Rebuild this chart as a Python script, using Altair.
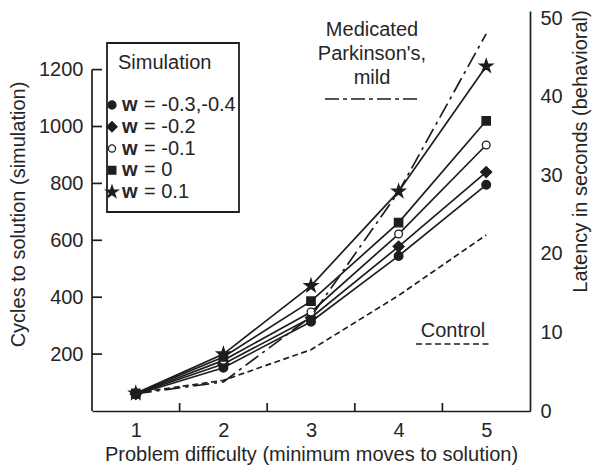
import altair as alt
import pandas as pd

# ---------------- data ----------------
problem = [1, 2, 3, 4, 5]
sim_labels = ["-0.3,-0.4", "-0.2", "-0.1", "0", "0.1"]
cyc_m03 = [58, 152, 314, 545, 795]
cyc_m02 = [60, 165, 328, 578, 840]
cyc_m01 = [60, 178, 348, 622, 935]
cyc_0 = [62, 190, 386, 662, 1020]
cyc_01 = [62, 200, 440, 772, 1212]
sim_values = [cyc_m03, cyc_m02, cyc_m01, cyc_0, cyc_01]

lat_med = [2.2, 3.7, 12.0, 27.9, 48.0]
lat_ctrl = [2.3, 3.9, 7.8, 14.7, 22.4]

left_ticks = [200, 400, 600, 800, 1000, 1200]
right_ticks = [0, 10, 20, 30, 40, 50]
x_bounds = [1.5, 2.5, 3.5, 4.5]

# ---------------- style ----------------
INK = "#1e1e1e"
TXT = "#262626"
FONT = "Liberation Sans"
FS = 20
LW = 1.7
STAR = ("M0,-1L0.2245,-0.309L0.951,-0.309L0.363,0.118L0.588,0.809L0,0.382"
        "L-0.588,0.809L-0.363,0.118L-0.951,-0.309L-0.2245,-0.309Z")
shapes = ["circle", "diamond", "circle", "square", STAR]
fills = [INK, INK, "white", INK, INK]
sizes = [75, 120, 60, 70, 190]

W, H = 438, 400

one = pd.DataFrame({"a": [0]})

x_enc = alt.X(
    "x:Q",
    scale=alt.Scale(domain=[0.5, 5.5], nice=False, zero=False),
    axis=alt.Axis(
        values=problem, ticks=False, tickSize=0, grid=False, domain=True,
        domainColor=INK, domainWidth=LW, labelFont=FONT, labelFontSize=FS,
        labelColor=TXT, labelPadding=9, format="d",
        title="Problem difficulty (minimum moves to solution)",
        titleFont=FONT, titleFontSize=FS, titleFontWeight="normal",
        titleColor=TXT, titleY=43, titleBaseline="middle",
    ),
)

yL = alt.Y(
    "cycles:Q",
    scale=alt.Scale(domain=[0, 1406], nice=False, zero=True),
    axis=alt.Axis(
        values=left_ticks, ticks=False, tickSize=0, grid=False, domain=False,
        format="d",
        labelFont=FONT, labelFontSize=FS, labelColor=TXT, labelPadding=9,
        title="Cycles to solution (simulation)", titleFont=FONT,
        titleFontSize=FS, titleFontWeight="normal", titleColor=TXT,
        titleAngle=270, titleX=-74, titleY=203, titleAlign="center",
        titleBaseline="middle",
    ),
)

yR = alt.Y(
    "lat:Q",
    scale=alt.Scale(domain=[0, 50.9], nice=False, zero=True),
    axis=alt.Axis(
        orient="right", values=right_ticks, ticks=False, tickSize=0,
        grid=False, domain=True, domainColor=INK, domainWidth=LW,
        format="d",
        labelFont=FONT, labelFontSize=FS, labelColor=TXT, labelPadding=10,
        title="Latency in seconds (behavioral)", titleFont=FONT,
        titleFontSize=FS, titleFontWeight="normal", titleColor=TXT,
        titleAngle=270, titleX=50, titleY=140, titleAlign="center",
        titleBaseline="middle",
    ),
)

# ---------------- left (simulation) group ----------------
left_layers = []

for lab, vals in zip(sim_labels, sim_values):
    df = pd.DataFrame({"x": problem, "cycles": vals})
    left_layers.append(
        alt.Chart(df).mark_line(color=INK, strokeWidth=LW).encode(x=x_enc, y=yL)
    )

for lab, vals, shp, fl, sz in zip(sim_labels, sim_values, shapes, fills, sizes):
    df = pd.DataFrame({"x": problem, "cycles": vals})
    left_layers.append(
        alt.Chart(df).mark_point(
            shape=shp, fill=fl, stroke=INK, strokeWidth=1.3, size=sz, opacity=1
        ).encode(x=x_enc, y=yL)
    )

# left axis line from 0 to 1200
axis_df = pd.DataFrame({"cycles": [0], "cycles2": [left_ticks[-1]]})
left_layers.append(
    alt.Chart(axis_df).mark_rule(color=INK, strokeWidth=LW).encode(
        x=alt.value(0), y=yL, y2="cycles2:Q"
    )
)
# inward ticks on left axis
lt_df = pd.DataFrame({"cycles": left_ticks})
left_layers.append(
    alt.Chart(lt_df).mark_rule(color=INK, strokeWidth=LW).encode(
        x=alt.value(0), x2=alt.value(10), y=yL
    )
)
# inward ticks on x axis at band boundaries
xt_df = pd.DataFrame({"x": x_bounds})
left_layers.append(
    alt.Chart(xt_df).mark_rule(color=INK, strokeWidth=LW).encode(
        x=x_enc, y=alt.value(H), y2=alt.value(H - 8)
    )
)

# legend box
left_layers.append(
    alt.Chart(one).mark_rect(fill="white", stroke=INK, strokeWidth=1.8).encode(
        x=alt.value(15), x2=alt.value(147), y=alt.value(32), y2=alt.value(201)
    )
)
left_layers.append(
    alt.Chart(one).mark_text(
        text="Simulation", align="left", baseline="middle", font=FONT,
        fontSize=FS, color=TXT
    ).encode(x=alt.value(26), y=alt.value(52))
)
for i, (lab, shp, fl, sz) in enumerate(zip(sim_labels, shapes, fills, sizes)):
    yy = 94 + i * 21.75
    left_layers.append(
        alt.Chart(one).mark_point(
            shape=shp, fill=fl, stroke=INK, strokeWidth=1.3,
            size=sz * 0.85, opacity=1
        ).encode(x=alt.value(20), y=alt.value(yy))
    )
    left_layers.append(
        alt.Chart(one).mark_text(
            text="w", align="left", baseline="middle", font=FONT,
            fontSize=FS, fontWeight="bold", color=TXT
        ).encode(x=alt.value(30), y=alt.value(yy))
    )
    left_layers.append(
        alt.Chart(one).mark_text(
            text="= " + lab, align="left", baseline="middle", font=FONT,
            fontSize=FS, color=TXT
        ).encode(x=alt.value(52), y=alt.value(yy))
    )

left_group = alt.layer(*left_layers)

# ---------------- right (behavioral) group ----------------
right_layers = []
med_df = pd.DataFrame({"x": problem, "lat": lat_med})
ctl_df = pd.DataFrame({"x": problem, "lat": lat_ctrl})
right_layers.append(
    alt.Chart(med_df).mark_line(
        color=INK, strokeWidth=LW, strokeDash=[16, 5, 3, 5]
    ).encode(x=x_enc, y=yR)
)
right_layers.append(
    alt.Chart(ctl_df).mark_line(
        color=INK, strokeWidth=LW, strokeDash=[6, 3.5]
    ).encode(x=x_enc, y=yR)
)

# annotations
for txt, yy in [("Medicated", 19), ("Parkinson's,", 43), ("mild", 67)]:
    right_layers.append(
        alt.Chart(one).mark_text(
            text=txt, align="center", baseline="middle", font=FONT,
            fontSize=FS, color=TXT
        ).encode(x=alt.value(280), y=alt.value(yy))
    )
right_layers.append(
    alt.Chart(one).mark_rule(
        color=INK, strokeWidth=LW, strokeDash=[14, 4, 4, 4]
    ).encode(x=alt.value(233), x2=alt.value(328), y=alt.value(88))
)
right_layers.append(
    alt.Chart(one).mark_text(
        text="Control", align="center", baseline="middle", font=FONT,
        fontSize=FS, color=TXT
    ).encode(x=alt.value(361), y=alt.value(320))
)
right_layers.append(
    alt.Chart(one).mark_rule(
        color=INK, strokeWidth=LW, strokeDash=[6, 3.5]
    ).encode(x=alt.value(324), x2=alt.value(399), y=alt.value(333))
)

right_group = alt.layer(*right_layers)

chart = (
    alt.layer(left_group, right_group)
    .resolve_scale(y="independent")
    .properties(
        width=W,
        height=H,
        autosize=alt.AutoSizeParams(type="none"),
        padding={"left": 84, "top": 3, "right": 62, "bottom": 54},
        background="white",
    )
    .configure_view(stroke=None)
)

chart.save("out.html", embed_options={"renderer": "svg", "actions": False})
